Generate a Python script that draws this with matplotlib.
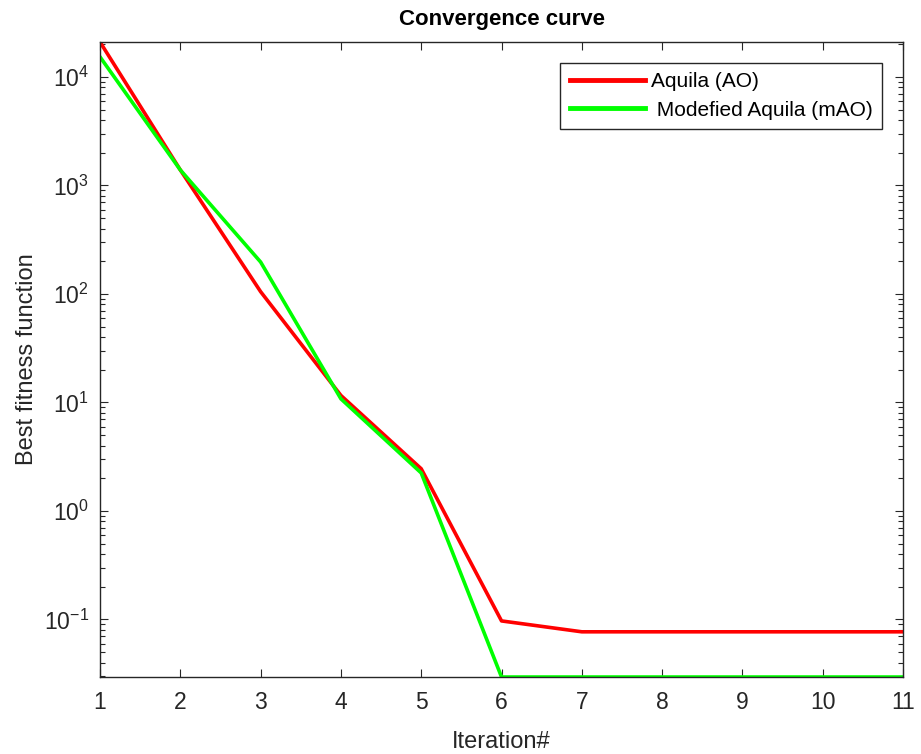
import matplotlib.pyplot as plt
import numpy as np

iterations = [1, 2, 3, 4, 5, 6, 7, 8, 9, 10, 11]
ao_fitness = [21000, 1390, 105, 11.6, 2.45, 0.097, 0.077, 0.077, 0.077, 0.077, 0.077]
mao_fitness = [15300, 1390, 197, 10.8, 2.24, 0.0295, 0.0295, 0.0295, 0.0295, 0.0295, 0.0295]

plt.rcParams['font.family'] = ['Liberation Sans', 'DejaVu Sans']
plt.rcParams['axes.unicode_minus'] = False

fig = plt.figure(figsize=(9.21, 7.54), dpi=100)
ax = fig.add_axes([0.1086, 0.1021, 0.8719, 0.8422])

ax.semilogy(iterations, ao_fitness, color='#ff0000', lw=2.6, label='Aquila (AO)')
ax.semilogy(iterations, mao_fitness, color='#00ff00', lw=2.6, label=' Modefied Aquila (mAO)')

ax.set_xlim(1, 11)
ax.set_ylim(min(mao_fitness), max(ao_fitness))
ax.set_xticks(iterations)

ax.tick_params(which='both', direction='in', top=True, right=True, labelsize=16.5, colors='#262626')
ax.tick_params(which='major', length=6, width=0.8, pad=10)
ax.tick_params(which='minor', length=3.5, width=0.8)
ax.tick_params(axis='y', which='major', pad=8)
for s in ax.spines.values():
    s.set_linewidth(1.0)
    s.set_color('#262626')

ax.set_title('Convergence curve', fontsize=16, fontweight='bold', pad=12)
ax.set_xlabel('Iteration#', fontsize=17, color='#262626', labelpad=12)
ax.set_ylabel('Best fitness function', fontsize=17, color='#262626', labelpad=4)

leg = ax.legend(loc='upper right', fontsize=15, handlelength=3.6, fancybox=False,
                edgecolor='#262626', framealpha=1, borderaxespad=1.0,
                handletextpad=0.3, labelspacing=0.45, borderpad=0.45)
leg.get_frame().set_linewidth(1.0)
for h in leg.get_lines():
    h.set_linewidth(3.5)

fig.savefig('out.png', dpi=100)
